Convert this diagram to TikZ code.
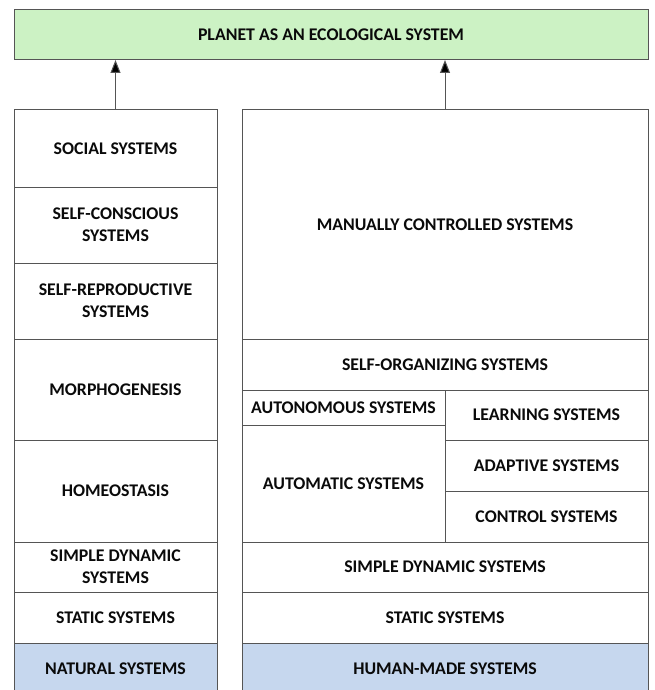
\documentclass[tikz,border=0pt]{standalone}
\usepackage{fontspec}
\setmainfont{Carlito}
\usetikzlibrary{arrows.meta}
\definecolor{bordercol}{HTML}{555555}
\definecolor{planetgreen}{HTML}{CCF2C4}
\definecolor{baseblue}{HTML}{C6D7EE}
\definecolor{txt}{HTML}{0A0A0A}
\tikzset{
  cell/.style={draw=bordercol, line width=1pt, anchor=north west, inner sep=0pt, outer sep=0pt,
    align=center, text=txt, font=\fontsize{17.8}{22}\selectfont\bfseries},
  arr/.style={draw=bordercol, line width=1pt, -{Triangle[length=13pt,width=10pt,fill=black]}}
}
\begin{document}
\begin{tikzpicture}[x=1pt,y=-1pt]
\clip (0,0) rectangle (655,690);
\fill[white] (0,0) rectangle (655,690);
% top
\node[cell, fill=planetgreen, minimum width=634, minimum height=50] (planet) at (14,10) {PLANET AS AN ECOLOGICAL SYSTEM};
% left column
\node[cell, minimum width=203, minimum height=77] (social) at (14,110) {SOCIAL SYSTEMS};
\node[cell, minimum width=203, minimum height=76] (selfcons) at (14,187) {SELF-CONSCIOUS\\SYSTEMS};
\node[cell, minimum width=203, minimum height=76] (selfrep) at (14,263) {SELF-REPRODUCTIVE\\SYSTEMS};
\node[cell, minimum width=203, minimum height=101] (morph) at (14,339) {MORPHOGENESIS};
\node[cell, minimum width=203, minimum height=102] (homeo) at (14,440) {HOMEOSTASIS};
\node[cell, minimum width=203, minimum height=50] (simdynL) at (14,542) {SIMPLE DYNAMIC\\SYSTEMS};
\node[cell, minimum width=203, minimum height=51] (staticL) at (14,592) {STATIC SYSTEMS};
\node[cell, fill=baseblue, minimum width=203, minimum height=60] (natural) at (14,643) {\raisebox{8pt}{NATURAL SYSTEMS}};
% right column
\node[cell, minimum width=406, minimum height=229] (manual) at (242,110) {MANUALLY CONTROLLED SYSTEMS};
\node[cell, minimum width=406, minimum height=51] (selforg) at (242,339) {SELF-ORGANIZING SYSTEMS};
\node[cell, minimum width=203, minimum height=35] (autonom) at (242,390) {AUTONOMOUS SYSTEMS};
\node[cell, minimum width=203, minimum height=117] (automatic) at (242,425) {AUTOMATIC SYSTEMS};
\node[cell, minimum width=203, minimum height=50] (learning) at (445,390) {LEARNING SYSTEMS};
\node[cell, minimum width=203, minimum height=51] (adaptive) at (445,440) {ADAPTIVE SYSTEMS};
\node[cell, minimum width=203, minimum height=51] (control) at (445,491) {CONTROL SYSTEMS};
\node[cell, minimum width=406, minimum height=50] (simdynR) at (242,542) {SIMPLE DYNAMIC SYSTEMS};
\node[cell, minimum width=406, minimum height=51] (staticR) at (242,592) {STATIC SYSTEMS};
\node[cell, fill=baseblue, minimum width=406, minimum height=60] (human) at (242,643) {\raisebox{8pt}{HUMAN-MADE SYSTEMS}};
% arrows
\draw[arr] (social.north) -- (planet.south -| social.north);
\draw[arr] (manual.north) -- (planet.south -| manual.north);
\end{tikzpicture}
\end{document}
